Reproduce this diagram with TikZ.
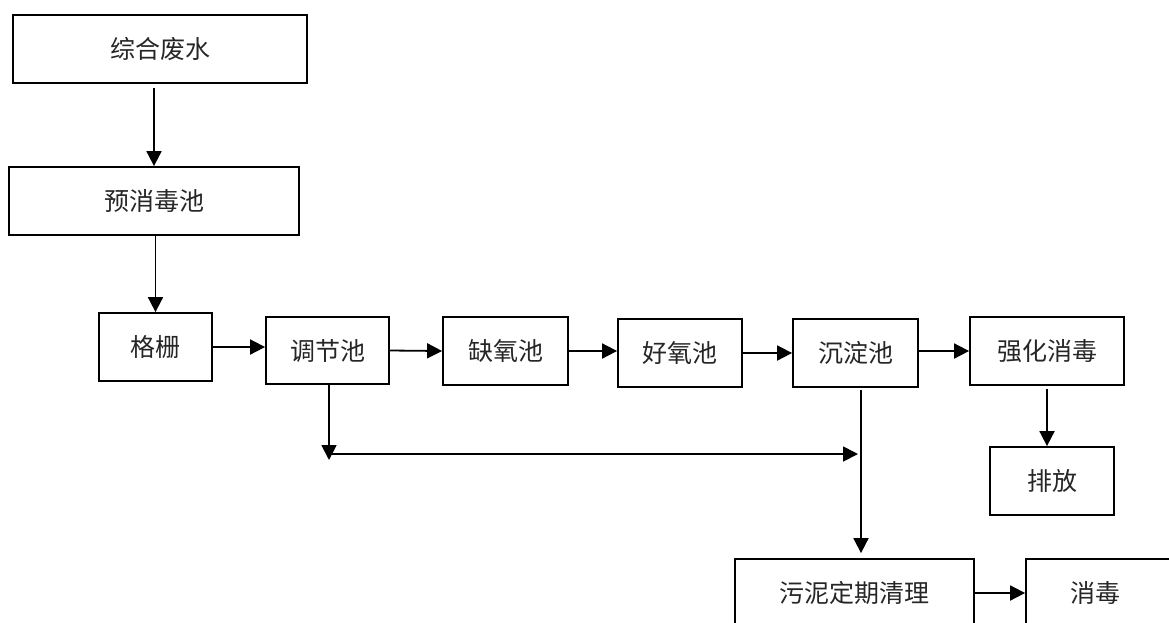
\documentclass[tikz,border=0pt]{standalone}
\usepackage{fontspec}
\newfontfamily\cjk{Noto Sans CJK SC}
\usetikzlibrary{arrows.meta}
\tikzset{
  box/.style={draw=black, line width=1.8pt, rectangle, inner sep=0pt,
    font=\cjk\fontsize{25}{30}\selectfont, text=black!85},
  arr/.style={draw=black, line width=1.8pt, -{Triangle[length=15pt,width=15pt]}},
  ln/.style={draw=black, line width=1.8pt}
}
\begin{document}
\begin{tikzpicture}[x=1pt,y=-1pt]
\useasboundingbox (0,0) rectangle (1169,622);
\clip (0,0) rectangle (1169,622);
\node[box, minimum width=294pt, minimum height=68pt] (zh) at (160,49) {综合废水};
\node[box, minimum width=290pt, minimum height=68pt] (yx) at (154,201) {预消毒池};
\node[box, minimum width=113pt, minimum height=68pt] (gs) at (155.5,347) {格栅};
\node[box, minimum width=123pt, minimum height=67pt] (tj) at (327.5,350.5) {调节池};
\node[box, minimum width=125pt, minimum height=68pt] (qy) at (505.5,351) {缺氧池};
\node[box, minimum width=124pt, minimum height=68pt] (hy) at (680,353) {好氧池};
\node[box, minimum width=125pt, minimum height=68pt] (cd) at (855.5,353) {沉淀池};
\node[box, minimum width=154pt, minimum height=68pt] (qh) at (1047,351) {强化消毒};
\node[box, minimum width=124pt, minimum height=68pt] (pf) at (1052,481) {排放};
\node[box, minimum width=239pt, minimum height=68pt] (wn) at (854.5,593) {污泥定期清理};
\node[box, minimum width=154pt, minimum height=68pt] (xd) at (1103,593) {};
\node[font=\cjk\fontsize{25}{30}\selectfont, text=black!85] (xdt) at (1095,593) {消毒};

\draw[arr, shorten <=4pt] (yx.north |- zh.south) -- (yx.north);
\draw[arr] (gs.north |- yx.south) -- (gs.north);
\draw[arr] (gs.east) -- (tj.west |- gs.east);
\draw[arr] (tj.east) -- (qy.west);
\draw[arr] (qy.east) -- (hy.west |- qy.east);
\draw[arr] (hy.east) -- (cd.west);
\draw[arr] ([yshift=2pt]cd.east) -- ([yshift=2pt]qh.west |- cd.east);
\draw[arr, shorten <=3pt] (qh.south) -- (pf.north -| qh.south);
\draw[arr] (wn.east) -- (xd.west);

\coordinate (j1) at ([xshift=1.5pt]tj.south |- 0,454);
\coordinate (j1t) at ([xshift=1.5pt]tj.south |- 0,460);
\coordinate (v1) at ([xshift=5.5pt]cd.south);
\coordinate (v2) at (v1 |- wn.north);
\coordinate (j2) at (v1 |- j1);
\draw[arr] ([xshift=1.5pt]tj.south) -- (j1t);
\draw[arr, shorten >=3pt] (j1) -- (j2);
\draw[arr, shorten <=2pt, shorten >=5pt] (v1) -- (v2);
\end{tikzpicture}
\end{document}
